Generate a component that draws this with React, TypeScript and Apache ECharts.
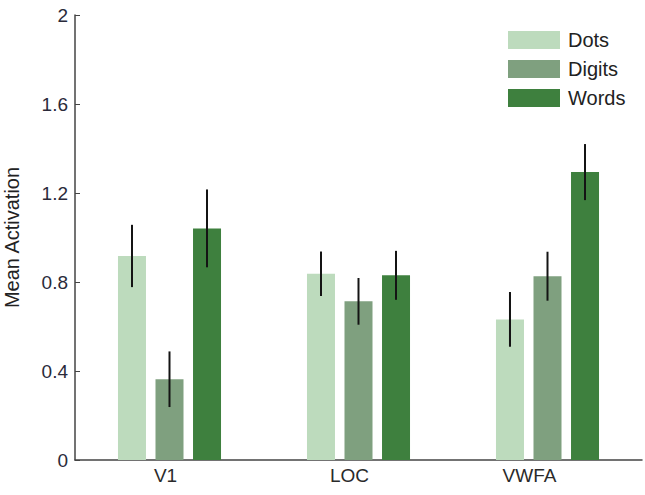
import React, { useEffect, useRef } from "react";
import * as echarts from "echarts";

const categories = ["V1", "LOC", "VWFA"];
const seriesNames = ["Dots", "Digits", "Words"];
const dotsValues = [0.917, 0.837, 0.632];
const digitsValues = [0.363, 0.713, 0.826];
const wordsValues = [1.041, 0.83, 1.294];
const dotsErrors = [0.14, 0.1, 0.123];
const digitsErrors = [0.125, 0.105, 0.11];
const wordsErrors = [0.175, 0.11, 0.126];
const yTicks = [0, 0.4, 0.8, 1.2, 1.6, 2];

const colors = ["#bddbbd", "#7fa07f", "#3e803e"];
const labelShift = [8, 18, 36];
const BAR_W = 28;
const GAP_PCT = 34;
const FONT = "'Liberation Sans', Arial, sans-serif";

export default function App() {
  const ref = useRef<HTMLDivElement>(null);

  useEffect(() => {
    if (!ref.current) return;
    const chart = echarts.init(ref.current, null, { renderer: "svg" });
    const values = [dotsValues, digitsValues, wordsValues];
    const errors = [dotsErrors, digitsErrors, wordsErrors];
    const pitch = BAR_W * (1 + GAP_PCT / 100);

    const barSeries = seriesNames.map((name, i) => ({
      name,
      type: "bar",
      data: values[i],
      barWidth: BAR_W,
      barGap: GAP_PCT + "%",
      itemStyle: { color: colors[i] },
      z: 2,
    }));

    const errSeries = seriesNames.map((name, i) => ({
      name: name + "-err",
      type: "custom",
      z: 5,
      data: categories.map((_, c) => [c, values[i][c] - errors[i][c], values[i][c] + errors[i][c]]),
      renderItem: (params: any, api: any) => {
        const lo = api.coord([api.value(0), api.value(1)]);
        const hi = api.coord([api.value(0), api.value(2)]);
        const x = lo[0] + (i - 1) * pitch;
        return {
          type: "line",
          shape: { x1: x, y1: lo[1], x2: x, y2: hi[1] },
          style: { stroke: "#141414", lineWidth: 2 },
        };
      },
      silent: true,
    }));

    const rich: Record<string, any> = {};
    categories.forEach((_, c) => {
      rich["c" + c] = {
        fontSize: 19,
        color: "#2a2a2a",
        fontFamily: FONT,
        padding: [0, labelShift[c], 0, 0],
      };
    });

    chart.setOption({
      animation: false,
      textStyle: { fontFamily: FONT },
      grid: { left: 75, right: 3, top: 15, bottom: 35, outerBoundsMode: "none", containLabel: false },
      legend: {
        data: seriesNames,
        orient: "vertical",
        left: 508,
        top: 30,
        padding: 0,
        itemWidth: 52,
        itemHeight: 18,
        itemGap: 9,
        icon: "rect",
        textStyle: { fontSize: 20, color: "#222", fontFamily: FONT, padding: [0, 0, 0, 3] },
      },
      xAxis: {
        type: "category",
        data: categories,
        axisLine: { lineStyle: { color: "#444", width: 1.5 } },
        axisTick: { show: false },
        axisLabel: {
          fontSize: 19,
          color: "#2a2a2a",
          margin: 6,
          fontFamily: FONT,
          formatter: (v: string) => `{c${categories.indexOf(v)}|${v}}`,
          rich,
        },
      },
      yAxis: {
        type: "value",
        min: yTicks[0],
        max: yTicks[yTicks.length - 1],
        interval: yTicks[1] - yTicks[0],
        name: "Mean Activation",
        nameLocation: "middle",
        nameGap: 53,
        nameTextStyle: { fontSize: 20, color: "#222", fontFamily: FONT },
        axisLine: { show: true, lineStyle: { color: "#444", width: 1.5 } },
        axisTick: { show: true, inside: true, length: 5, lineStyle: { color: "#444" } },
        axisLabel: { fontSize: 19, color: "#2a2a3a", margin: 7, fontFamily: FONT },
        splitLine: { show: false },
      },
      series: [...barSeries, ...errSeries],
    });

    return () => chart.dispose();
  }, []);

  return (
    <div
      ref={ref}
      style={{ position: "fixed", left: 0, top: 0, width: 645, height: 495, background: "#fff" }}
    />
  );
}
